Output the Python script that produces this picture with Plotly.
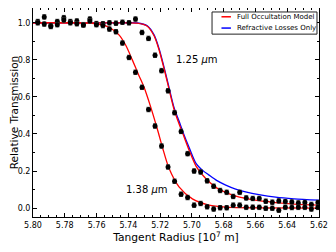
import plotly.graph_objects as go

# Observed data (tangent radius in 1e7 m)
radius = [5.7970, 5.7929, 5.7888, 5.7847, 5.7806, 5.7765, 5.7724, 5.7683, 5.7642, 5.7601,
          5.7560, 5.7519, 5.7478, 5.7437, 5.7396, 5.7355, 5.7314, 5.7273, 5.7232, 5.7191,
          5.7150, 5.7109, 5.7068, 5.7027, 5.6986, 5.6945, 5.6904, 5.6863, 5.6822, 5.6781,
          5.6740, 5.6699, 5.6658, 5.6617, 5.6576, 5.6535, 5.6494, 5.6453, 5.6412, 5.6371,
          5.6330, 5.6289, 5.6248, 5.6207]
trans_125 = [1.007, 1.032, 0.985, 1.007, 1.028, 1.007, 1.010, 0.990, 1.020, 0.996,
             0.995, 1.000, 0.998, 1.003, 1.000, 1.020, 0.948, 0.916, 0.825, 0.742,
             0.633, 0.515, 0.414, 0.294, 0.200, 0.195, 0.147, 0.118, 0.095, 0.085,
             0.063, 0.085, 0.055, 0.052, 0.052, 0.037, 0.032, 0.039, 0.035, 0.033,
             0.028, 0.030, 0.020, 0.030]
trans_138 = [1.000, 0.993, 0.980, 0.990, 1.015, 1.000, 0.995, 0.988, 1.010, 0.990,
             0.985, 0.966, 0.952, 0.891, 0.813, 0.733, 0.652, 0.532, 0.443, 0.335,
             0.222, 0.145, 0.075, 0.057, 0.016, 0.025, 0.007, -0.005, 0.002, 0.002,
             0.016, 0.016, 0.004, 0.005, 0.004, -0.001, -0.001, -0.011, 0.004, 0.003,
             0.004, 0.004, -0.005, 0.004]
err = 0.012

# Model curves
full138_x = [5.8000, 5.7710, 5.7648, 5.7585, 5.7542, 5.7501, 5.7459, 5.7417, 5.7375, 5.7333,
             5.7301, 5.7259, 5.7218, 5.7186, 5.7144, 5.7081, 5.6997, 5.6892, 5.6787, 5.6578, 5.6200]
full138_y = [1.000, 1.000, 0.998, 0.992, 0.983, 0.965, 0.935, 0.880, 0.800, 0.715,
             0.652, 0.545, 0.428, 0.330, 0.215, 0.115, 0.050, 0.016, 0.005, 0.001, 0.000]

curve125_x = [5.8000, 5.7459, 5.7344, 5.7281, 5.7238, 5.7207, 5.7175, 5.7144, 5.7113, 5.7081,
              5.7056, 5.7014, 5.6973, 5.6934, 5.6892, 5.6842, 5.6787, 5.6729, 5.6662, 5.6578,
              5.6473, 5.6358, 5.6200]
full125_y = [1.000, 1.000, 0.998, 0.982, 0.930, 0.855, 0.752, 0.642, 0.535, 0.455,
             0.400, 0.305, 0.225, 0.180, 0.142, 0.108, 0.085, 0.066, 0.052, 0.040,
             0.030, 0.022, 0.016]
refr125_y = [1.000, 1.000, 0.999, 0.984, 0.935, 0.862, 0.760, 0.652, 0.545, 0.470,
             0.410, 0.320, 0.240, 0.205, 0.178, 0.148, 0.124, 0.104, 0.088, 0.073,
             0.059, 0.050, 0.043]

x_ticks = [5.80, 5.78, 5.76, 5.74, 5.72, 5.70, 5.68, 5.66, 5.64, 5.62]
y_ticks = [0.0, 0.2, 0.4, 0.6, 0.8, 1.0]

legend_labels = ["Full Occultation Model", "Refractive Losses Only"]
legend_colors = ["#ff0000", "#0000ff"]

FONT = "DejaVu Sans"
fig = go.Figure()

fig.add_trace(go.Scatter(x=curve125_x, y=refr125_y, mode="lines", name=legend_labels[1],
                         showlegend=False,
                         line=dict(color=legend_colors[1], width=1.3, shape="spline", smoothing=0.8)))
fig.add_trace(go.Scatter(x=curve125_x, y=full125_y, mode="lines", name=legend_labels[0],
                         showlegend=False,
                         line=dict(color=legend_colors[0], width=1.3, shape="spline", smoothing=0.8)))
fig.add_trace(go.Scatter(x=full138_x, y=full138_y, mode="lines", name=legend_labels[0],
                         showlegend=False,
                         line=dict(color=legend_colors[0], width=1.3, shape="spline", smoothing=0.8)))

for nm, ys in (("1.25 μm", trans_125), ("1.38 μm", trans_138)):
    fig.add_trace(go.Scatter(x=radius, y=ys, mode="markers", name=nm, showlegend=False,
                             marker=dict(color="black", size=5),
                             error_y=dict(type="constant", value=err, color="#444444",
                                          thickness=1, width=2)))

fig.add_annotation(x=5.697, y=0.80, text="1.25 <i>μ</i>m", showarrow=False,
                   font=dict(family=FONT, size=10, color="black"))
fig.add_annotation(x=5.728, y=0.10, text="1.38 <i>μ</i>m", showarrow=False,
                   font=dict(family=FONT, size=10, color="black"))

# Legend box (drawn in paper coordinates, top-right of the axes)
fig.add_shape(type="rect", xref="paper", yref="paper", x0=0.626, x1=0.993, y0=0.875, y1=0.981,
              line=dict(color="#222222", width=1), fillcolor="white", layer="above")
for i, (lab, col) in enumerate(zip(legend_labels, legend_colors)):
    yy = 0.958 - i * 0.054
    fig.add_shape(type="line", xref="paper", yref="paper", x0=0.659, x1=0.692, y0=yy, y1=yy,
                  line=dict(color=col, width=1.5), layer="above")
    fig.add_annotation(xref="paper", yref="paper", x=0.706, y=yy, text=lab, showarrow=False,
                       xanchor="left", yanchor="middle",
                       font=dict(family=FONT, size=7, color="black"))

axis_common = dict(showline=True, linecolor="black", linewidth=1, mirror="allticks",
                   ticks="inside", ticklen=4, tickcolor="black", showgrid=False, zeroline=False,
                   tickfont=dict(family=FONT, size=8, color="black"))

fig.update_xaxes(range=[5.80, 5.62], tickvals=x_ticks, ticktext=[f"{v:.2f}" for v in x_ticks],
                 minor=dict(ticks="inside", dtick=0.005, ticklen=2, tickcolor="black"),
                 title=dict(text="Tangent Radius [10<sup>7</sup> m]",
                            font=dict(family=FONT, size=10.7, color="black"), standoff=4),
                 **axis_common)
fig.update_yaxes(range=[-0.048, 1.08], tickvals=y_ticks, ticktext=[f"{v:.1f}" for v in y_ticks],
                 minor=dict(ticks="inside", dtick=0.1, ticklen=2, tickcolor="black"),
                 title=dict(text="Relative Transmission",
                            font=dict(family=FONT, size=10.5, color="black"), standoff=2),
                 **axis_common)

# the page adds an 8px body margin, so the figure is sized to fill the rest of the window
fig.update_layout(width=328, height=244, margin=dict(l=25, r=17, t=0, b=35, autoexpand=False),
                  paper_bgcolor="white", plot_bgcolor="white", showlegend=False)

fig.write_html("out.html")
